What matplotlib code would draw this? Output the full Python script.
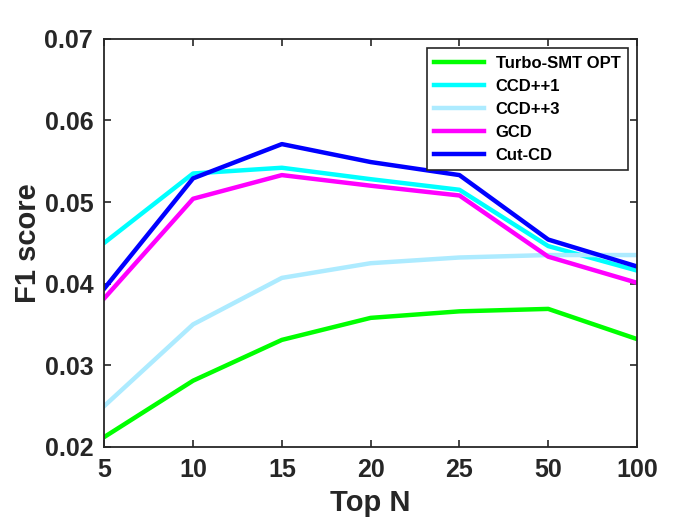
import matplotlib
matplotlib.use('Agg')
import matplotlib.pyplot as plt

# categories (equally spaced on the x axis)
top_n = ['5', '10', '15', '20', '25', '50', '100']

# F1 scores
turbo_smt = [0.0212, 0.0281, 0.0331, 0.0358, 0.0366, 0.0369, 0.0332]
ccd1 = [0.0450, 0.0535, 0.0542, 0.0528, 0.0515, 0.0446, 0.0416]
ccd3 = [0.0250, 0.0350, 0.0407, 0.0425, 0.0432, 0.0435, 0.0435]
gcd = [0.0382, 0.0504, 0.0533, 0.0520, 0.0508, 0.0433, 0.0401]
cut_cd = [0.0394, 0.0529, 0.0571, 0.0549, 0.0533, 0.0454, 0.0421]

y_ticks = [0.02, 0.03, 0.04, 0.05, 0.06, 0.07]

plt.rcParams['font.family'] = ['Liberation Sans', 'DejaVu Sans']
plt.rcParams['font.weight'] = 'bold'

fig = plt.figure(figsize=(7, 5.25), dpi=100)
ax = fig.add_axes([0.149, 0.149, 0.761, 0.777])

x = list(range(len(top_n)))
ax.plot(x, turbo_smt, color=(0, 1, 0), lw=3.2, label='Turbo-SMT OPT')
ax.plot(x, ccd1, color=(0, 1, 1), lw=3.2, label='CCD++1')
ax.plot(x, ccd3, color='#ADEBFF', lw=3.2, label='CCD++3')
ax.plot(x, gcd, color=(1, 0, 1), lw=3.2, label='GCD')
ax.plot(x, cut_cd, color=(0, 0, 1), lw=3.2, label='Cut-CD')

axis_col = '#262626'
ax.set_xlim(0, len(top_n) - 1)
ax.set_ylim(0.02, 0.07)
ax.set_xticks(x)
ax.set_xticklabels(top_n)
ax.set_yticks(y_ticks)
ax.set_yticklabels(['%.2f' % v for v in y_ticks])
ax.tick_params(direction='in', top=True, right=True, length=5, width=1.2,
               colors=axis_col, labelsize=18, pad=8)
for s in ax.spines.values():
    s.set_linewidth(1.3)
    s.set_color(axis_col)

ax.set_xlabel('Top N', fontsize=21, fontweight='bold', color=axis_col, labelpad=5)
ax.set_ylabel('F1 score', fontsize=21, fontweight='bold', color=axis_col, labelpad=2)

leg = ax.legend(loc='upper right', bbox_to_anchor=(0.983, 0.977), fontsize=12,
                frameon=True, fancybox=False, handlelength=3.0,
                labelspacing=0.48, borderpad=0.45, handletextpad=0.7,
                borderaxespad=0)
leg.get_frame().set_edgecolor(axis_col)
leg.get_frame().set_linewidth(1.2)
leg.get_frame().set_alpha(1)
for t in leg.get_texts():
    t.set_fontweight('bold')

fig.savefig('out.png', dpi=100)
